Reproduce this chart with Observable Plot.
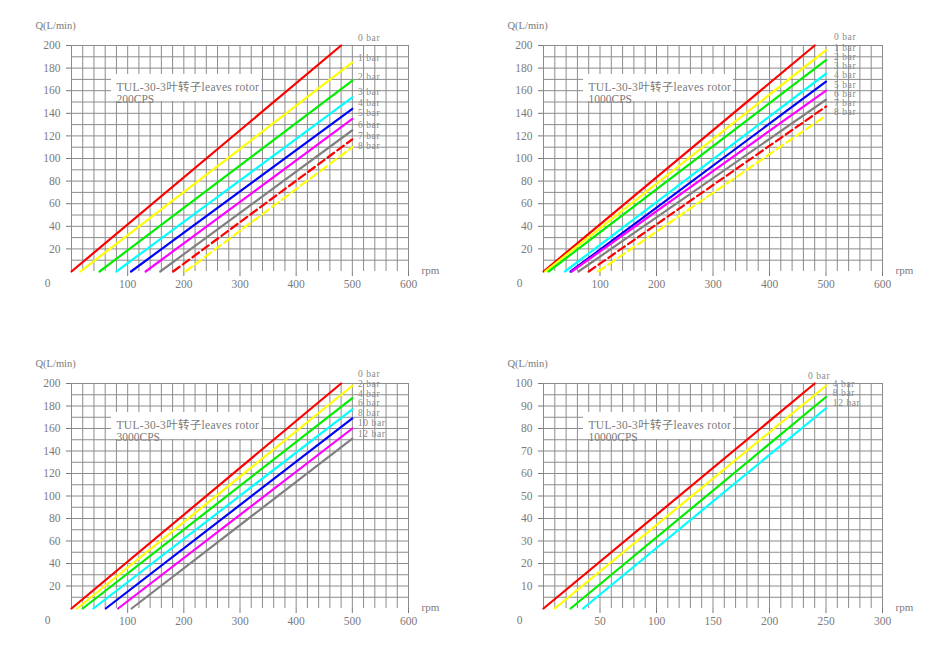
<!DOCTYPE html>
<html>
<head>
<meta charset="utf-8">
<script src="https://cdn.jsdelivr.net/npm/d3@7"></script>
<script src="https://cdn.jsdelivr.net/npm/@observablehq/plot@0.6"></script>
<style>
html, body { margin: 0; padding: 0; background: #fff; }
#chart { position: relative; width: 950px; height: 658px; overflow: hidden; background: #fff; }
#chart svg { position: absolute; }
</style>
</head>
<body>
<div id="chart"></div>
<script>
// ---------- shared text ----------
const rotorTitle = "TUL-30-3叶转子leaves rotor";
const yAxisTitle = "Q(L/min)";
const xAxisTitle = "rpm";

// ---------- tick labels ----------
const rpmTicks600 = [100, 200, 300, 400, 500, 600];
const qTicks200 = [20, 40, 60, 80, 100, 120, 140, 160, 180, 200];
const rpmTicks300 = [50, 100, 150, 200, 250, 300];
const qTicks100 = [10, 20, 30, 40, 50, 60, 70, 80, 90, 100];

// ---------- Panel A : 200 CPS ----------
const cpsA = "200CPS";
const barsA = ["0 bar", "1 bar", "2 bar", "3 bar", "4 bar", "5 bar", "6 bar", "7 bar", "8 bar"];
const startRpmA = [0, 16, 50, 80, 106, 132, 158, 181, 203];
const endRpmA = [480, 500, 500, 500, 500, 500, 500, 500, 500];
const endQA = [200, 185, 169, 154, 144, 135, 125, 117, 110];
const labelRpmA = [510, 510, 510, 510, 510, 510, 510, 510, 510];
const labelQA = [207, 189, 172, 159, 149, 140, 130, 120, 111.5];

// ---------- Panel B : 1000 CPS ----------
const cpsB = "1000CPS";
const barsB = ["0 bar", "1 bar", "2 bar", "3 bar", "4 bar", "5 bar", "6 bar", "7 bar", "8 bar"];
const startRpmB = [0, 3, 9, 38, 48, 50, 62, 80, 97];
const endRpmB = [480, 500, 500, 500, 500, 500, 500, 500, 500];
const endQB = [200, 196, 187, 175, 168, 160, 152, 146, 138];
const labelRpmB = [514, 514, 514, 514, 514, 514, 514, 514, 514];
const labelQB = [208, 198, 190, 182, 174, 165.5, 157, 149, 141];

// ---------- Panel C : 3000 CPS ----------
const cpsC = "3000CPS";
const barsC = ["0 bar", "2 bar", "4 bar", "6 bar", "8 bar", "10 bar", "12 bar"];
const startRpmC = [0, 10, 20, 39, 61, 83, 107];
const endRpmC = [480, 500, 500, 500, 500, 500, 500];
const endQC = [200, 198, 187, 177, 169, 160, 151];
const labelRpmC = [510, 510, 510, 510, 510, 510, 510];
const labelQC = [208.5, 200, 190.5, 182.5, 173.6, 164.7, 155];

// ---------- Panel D : 10000 CPS ----------
const cpsD = "10000CPS";
const barsD = ["0 bar", "4 bar", "8 bar", "12 bar"];
const startRpmD = [0, 10, 24, 35];
const endRpmD = [240, 250, 250, 250];
const endQD = [100, 99, 94, 89];
const labelRpmD = [234, 256, 256, 256];
const labelQD = [103.2, 99.8, 95.7, 91.2];

// ---------- styles ----------
const colors9 = ["#ff0000", "#ffff00", "#00ee00", "#00ffff", "#0000ff", "#ff00ff", "#808080", "#ff0000", "#ffff00"];
const dashed9 = [false, false, false, false, false, false, false, true, true];
const colors7 = ["#ff0000", "#ffff00", "#00ee00", "#00ffff", "#0000ff", "#ff00ff", "#808080"];
const dashed7 = [false, false, false, false, false, false, false];
const colors4 = ["#ff0000", "#ffff00", "#00ee00", "#00ffff"];
const dashed4 = [false, false, false, false];

const gridColor = "#8c8c8c";
const textColor = "#7a7a7a";
const fontFamily = "'Liberation Serif', 'Noto Sans CJK SC', serif";

function whiteBox(index, scales, values, dims) {
  const r = document.createElementNS("http://www.w3.org/2000/svg", "rect");
  r.setAttribute("x", dims.marginLeft + 40);
  r.setAttribute("y", dims.marginTop + 29);
  r.setAttribute("width", 150);
  r.setAttribute("height", 27);
  r.setAttribute("fill", "#ffffff");
  return r;
}

function panel(cfg) {
  const rows = cfg.bars.flatMap((b, i) => [
    {bar: b, rpm: cfg.startRpm[i], q: 0, dashed: cfg.dashed[i]},
    {bar: b, rpm: cfg.endRpm[i], q: cfg.endQ[i], dashed: cfg.dashed[i]}
  ]);
  const labels = cfg.bars.map((b, i) => ({bar: b, rpm: cfg.labelRpm[i], q: cfg.labelQ[i]}));
  const svg = Plot.plot({
    width: 475,
    height: 320,
    marginLeft: 71,
    marginRight: cfg.marginRight,
    marginTop: 45,
    marginBottom: cfg.marginBottom,
    style: {fontFamily, fontSize: "11.5px", color: textColor, background: "transparent", overflow: "visible"},
    x: {domain: [0, cfg.xMax], ticks: cfg.xTicks, tickSize: 5, tickPadding: 3, label: null},
    y: {domain: [0, cfg.yMax], ticks: cfg.yTicks, tickSize: 5, tickPadding: 6, label: null},
    color: {domain: cfg.bars, range: cfg.colors},
    marks: [
      Plot.ruleX(cfg.xGrid, {stroke: gridColor, strokeWidth: 1}),
      Plot.ruleY(cfg.yGrid, {stroke: gridColor, strokeWidth: 1}),
      whiteBox,
      Plot.text([rotorTitle], {text: d => d, frameAnchor: "top-left", dx: 45, dy: 37, textAnchor: "start", fill: textColor, fontSize: 11.5}),
      Plot.text([cfg.cps], {text: d => d, frameAnchor: "top-left", dx: 45, dy: 49, textAnchor: "start", fill: textColor, fontSize: 11.5}),
      Plot.line(rows.filter(d => !d.dashed), {x: "rpm", y: "q", z: "bar", stroke: "bar", strokeWidth: 2.2}),
      Plot.line(rows.filter(d => d.dashed), {x: "rpm", y: "q", z: "bar", stroke: "bar", strokeWidth: 2.2, strokeDasharray: "8,4"}),
      Plot.text(labels, {x: "rpm", y: "q", text: "bar", textAnchor: "start", fill: "#8a8a8a", fontSize: 9.5}),
      Plot.text([yAxisTitle], {text: d => d, frameAnchor: "top-left", dx: -36, dy: -24, textAnchor: "start", fill: textColor, fontSize: 10.5}),
      Plot.text([xAxisTitle], {text: d => d, frameAnchor: "bottom-right", dx: 13, dy: 2, textAnchor: "start", fill: textColor, fontSize: 11}),
      Plot.text([{rpm: 0, q: 0}], {x: "rpm", y: "q", text: () => "0", dx: -24, dy: 12, fill: textColor, fontSize: 11.5})
    ]
  });
  svg.style.left = cfg.left + "px";
  svg.style.top = cfg.top + "px";
  svg.querySelectorAll("text").forEach(t => {
    const s = t.textContent;
    if (/[\u4e00-\u9fff]/.test(s)) t.setAttribute("letter-spacing", "0.3");
    else if (/bar$/.test(s)) t.setAttribute("letter-spacing", "0.6");
  });
  return svg;
}

const chart = document.getElementById("chart");
chart.appendChild(panel({
  cps: cpsA, bars: barsA, startRpm: startRpmA, endRpm: endRpmA, endQ: endQA,
  labelRpm: labelRpmA, labelQ: labelQA, colors: colors9, dashed: dashed9,
  xMax: 600, yMax: 200, xTicks: rpmTicks600, yTicks: qTicks200,
  xGrid: d3.range(0, 601, 20), yGrid: d3.range(10, 201, 10),
  left: 0, top: 0, marginRight: 67, marginBottom: 49
}));
chart.appendChild(panel({
  cps: cpsB, bars: barsB, startRpm: startRpmB, endRpm: endRpmB, endQ: endQB,
  labelRpm: labelRpmB, labelQ: labelQB, colors: colors9, dashed: dashed9,
  xMax: 600, yMax: 200, xTicks: rpmTicks600, yTicks: qTicks200,
  xGrid: d3.range(0, 601, 20), yGrid: d3.range(10, 201, 10),
  left: 472, top: 0, marginRight: 65, marginBottom: 49
}));
chart.appendChild(panel({
  cps: cpsC, bars: barsC, startRpm: startRpmC, endRpm: endRpmC, endQ: endQC,
  labelRpm: labelRpmC, labelQ: labelQC, colors: colors7, dashed: dashed7,
  xMax: 600, yMax: 200, xTicks: rpmTicks600, yTicks: qTicks200,
  xGrid: d3.range(0, 601, 20), yGrid: d3.range(10, 201, 10),
  left: 0, top: 338, marginRight: 67, marginBottom: 50
}));
chart.appendChild(panel({
  cps: cpsD, bars: barsD, startRpm: startRpmD, endRpm: endRpmD, endQ: endQD,
  labelRpm: labelRpmD, labelQ: labelQD, colors: colors4, dashed: dashed4,
  xMax: 300, yMax: 100, xTicks: rpmTicks300, yTicks: qTicks100,
  xGrid: d3.range(0, 301, 10), yGrid: d3.range(5, 101, 5),
  left: 472, top: 338, marginRight: 65, marginBottom: 50
}));
</script>
</body>
</html>
